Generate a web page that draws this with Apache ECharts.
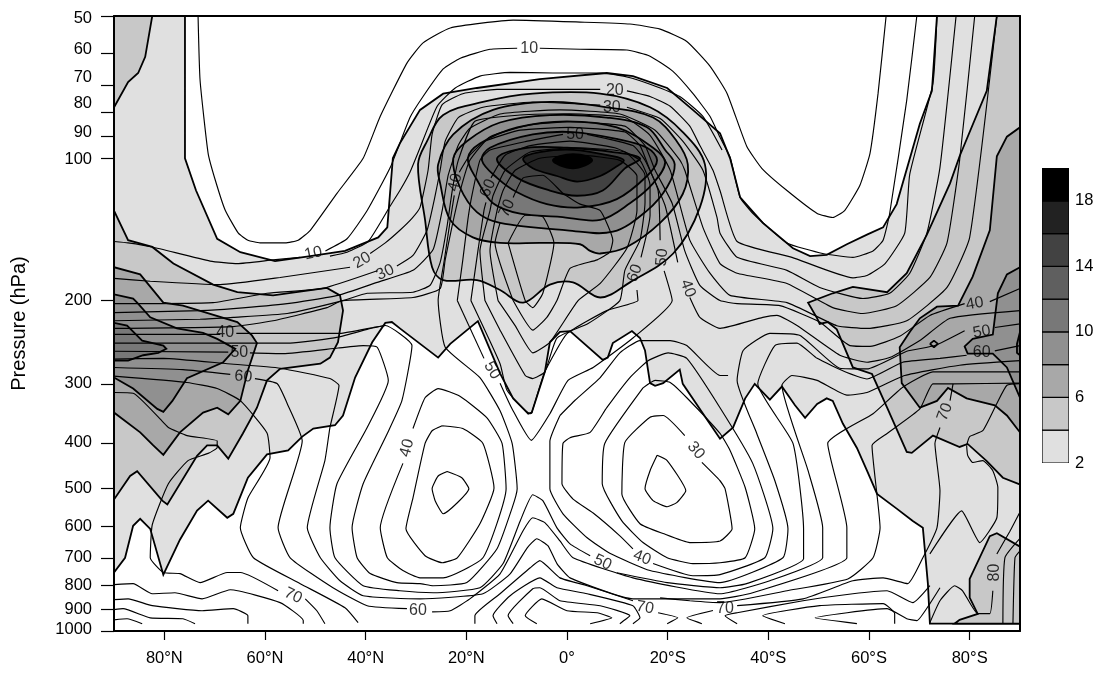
<!DOCTYPE html>
<html><head><meta charset="utf-8">
<style>html,body{margin:0;padding:0;background:#fff}#c{width:1106px;height:675px}</style>
<script src="https://cdn.jsdelivr.net/npm/echarts@6/dist/echarts.min.js"></script>
</head><body><div id="c"></div>
<script>
const pressureTicks=[50,60,70,80,90,100,200,300,400,500,600,700,800,900,1000];
const latTicks=[-80,-60,-40,-20,0,20,40,60,80];
const legendLevels=[2,4,6,8,10,12,14,16,18,20];
const legendTicks=[2,6,10,14,18];

// shaded regions [latitude (negative = N), pressure hPa]
const shade2=[[-90,50],[-75.9,50],[-75.9,100],[-73.7,117],[-69.5,148],[-64.9,158],[-58,165],[-51,161],[-44.1,157],[-37.5,147],[-35.7,140],[-34.6,100],[-33.2,93],[-29.2,79],[-24.6,73],[-17.9,71],[-5.4,68],[7.9,66],[13.1,67],[19.9,71],[25,79],[30.4,88.5],[32.4,100],[34.4,121],[38.9,137],[44.9,155],[48.3,161],[51.6,160],[55.6,152],[59.6,145],[62.8,140],[65.5,125],[70.1,84.5],[72.5,72],[73.5,50],[90,50],[90,965],[72.1,965],[71.7,794],[70.7,605],[68.7,585],[65.5,551],[61.6,513],[59.6,458],[57.6,410],[54.8,364],[52.8,326],[51.6,322],[49.7,331],[47.3,354],[45.3,333],[42.7,304],[40.3,324],[37.3,300],[35.4,322],[33,371],[30.4,392],[23,300],[22.4,280],[19.1,299],[17.5,303],[16.5,299],[15.5,255],[14.5,240],[12.9,232],[9.1,246],[8.1,264],[7.1,267],[0.6,232],[-1.4,233],[-3.4,245],[-4.4,283],[-7,345],[-7.7,347],[-10.7,322],[-13.3,285],[-17.7,221],[-23.2,247],[-25.6,264],[-33.2,229],[-34.8,222],[-36.1,223],[-38.7,245],[-42.1,291],[-44.5,350],[-46.1,367],[-50.4,373],[-52.6,388],[-55.4,415],[-59.6,423],[-63.4,474],[-66.3,565],[-67.5,576],[-71.3,530],[-73.5,556],[-76.9,641],[-80.2,760],[-82.8,608],[-84.8,579],[-86.2,599],[-87.8,700],[-90,752]];
const shade4a=[[-90,50],[-82.4,50],[-83.8,61],[-85.2,66],[-87.2,69],[-90,78]];
const shade4b=[[-90,129],[-87.2,149],[-82.4,154],[-78.2,167],[-70.3,185],[-65.5,192],[-58.4,195],[-47.7,188],[-45.1,195],[-44.5,210],[-45.5,245],[-47.1,264],[-49,272],[-57,279],[-59.6,295],[-61.6,337],[-64.4,382],[-67.3,432],[-69.5,405],[-71.5,405],[-73.5,426],[-79.4,540],[-80.4,530],[-85.4,459],[-86.8,470],[-90,527]];
const shade4c=[[-29.6,103],[-27.8,92],[-24.6,81],[-16.7,76],[-6.8,73],[6.6,73],[16.5,78],[23,88],[27.4,103],[26.4,127],[21.1,159],[12.5,183],[6.6,197],[1.2,183],[-3.4,185],[-8.7,202],[-13.3,190],[-17.9,181],[-24.6,181],[-26.8,170],[-28.2,135]];
const shade4d=[[85.4,50],[83.4,72],[78,99],[76.1,113],[71.5,145],[67.5,175],[63.6,192],[56.8,187],[52.8,193],[47.9,202],[49.7,218],[50.2,224],[51.8,222],[53.6,230],[56.8,277],[60.6,286],[63.6,337],[67.5,418],[68.5,420],[72.7,386],[78,408],[79.6,402],[83.4,437],[86.6,474],[90,490],[90,50]];
const shade4e=[[90,663],[85.4,621],[84,630],[80,776],[80,850],[81.6,920],[78,947],[77,965],[90,965]];
const shade6a=[[-90,170],[-84.8,176],[-80.2,202],[-76.3,205],[-65.5,222],[-62.6,237],[-61.6,246],[-63.4,281],[-64.9,326],[-67.3,348],[-69.5,337],[-72.3,345],[-76.9,380],[-80.2,424],[-82.2,405],[-84.8,380],[-90,345]];
const shade6b=[[-25.6,103],[-22.6,89],[-14.7,79],[-3.4,76],[7.9,78],[17.1,82],[21.8,92],[24,103],[23,119],[18.5,137],[11.9,154],[6.6,159],[4.6,157],[2.6,152],[-4.8,151],[-13.3,151],[-18.7,147],[-23.2,135],[-25.2,113]];
const shade6c=[[90,86],[87.4,90],[85.4,99],[84,142],[80.6,178],[77.7,205],[73.5,206],[70.1,218],[68.1,233],[66.1,251],[66.5,299],[70.1,337],[73.5,326],[75.7,306],[79.4,322],[85,333],[87.4,350],[90,380]];
const shade8a=[[-90,194],[-86.2,198],[-85.4,202],[-82.8,217],[-77.5,229],[-72.3,234],[-69.5,241],[-65.9,253],[-68.3,270],[-75.5,292],[-78.4,326],[-80.2,344],[-81.4,339],[-86.2,307],[-90,291]];
const shade8b=[[-22.6,100],[-19.9,92],[-13.3,84],[-3.4,81],[7.9,82],[15.9,86],[19.5,96],[21.4,103],[19.9,115],[15.9,129],[9.1,143],[0,142],[-13.3,137],[-17.9,130],[-21.3,115]];
const shade8c=[[90,170],[87.4,176],[85.6,193],[84.6,236],[80.6,241],[79,250],[79.6,259],[84.6,259],[87.4,277],[90,321]];
const shade10a=[[-90,223],[-87.4,226],[-84.4,243],[-80.2,249],[-79.6,253],[-81.2,258],[-84.2,261],[-87.2,268],[-90,268]];
const shade10b=[[90,233],[89.4,247],[89.4,258],[90,261]];
const shade10c=[[-19.7,100],[-17.3,93],[-9.9,86],[0,83.5],[9.9,86],[17.1,95],[19.5,102],[17.1,113],[12.5,124.5],[6.6,135],[-1.4,133],[-9.3,131],[-14.7,124.5],[-17.9,111]];
const shade12=[[-16.9,101],[-15.3,95],[-6.8,89],[1.2,88],[9.9,91],[15.9,95],[17.9,101],[15.9,109],[9.9,122],[2.6,127],[-4,125],[-9.9,118],[-13.9,110]];
const shade14=[[-13.9,100],[-7.9,95],[0,95],[9.1,97],[14.5,100],[11.5,105],[7.1,117],[2,120],[-3.4,117],[-9.9,110]];
const shade16=[[-8.7,100],[-5.4,97],[1.2,96],[9.1,99],[11.3,101],[9.9,104],[6.6,109],[2,112],[-2,109],[-6.8,105]];
const shade18=[[-2.8,101],[-1.4,99],[1.2,98],[4,99],[5,101],[3.6,103.5],[1.2,105],[-1.4,103.5]];
const shadeLevels=[[shade2],[shade4a,shade4b,shade4c,shade4d,shade4e],[shade6a,shade6b,shade6c],[shade8a,shade8b,shade8c],[shade10a,shade10b,shade10c],[shade12],[shade14],[shade16],[shade18]];
const roundedShades=[shade4c,shade6b,shade8b,shade10c,shade12,shade14,shade16,shade18];
const smallRing=[[72.1,247],[72.9,243],[73.7,247],[72.9,251],[72.1,247]];

// contour lines
const c00=[[-73.3,50],[-72.9,68.4],[-71.3,97.6],[-69.9,111],[-67.9,128.8],[-65.3,144],[-63.4,149],[-61,151],[-56,151],[-53.4,149],[-51,142],[-45.7,118.6],[-40.5,100],[-37.1,81.5],[-31.8,62.9],[-28.6,57],[-23.2,53],[-10.7,51],[2.6,51.5],[12.5,52],[18.5,53.3],[23.8,56.6],[28.4,63.8],[31.8,72.9],[35.7,94.3],[38.7,105],[43.7,117],[49.7,130.8],[52.8,133.4],[55.2,128.8],[58.2,114],[60.2,97.6],[61.8,72.9],[63.4,50]];
const c10a=[[-90,150],[-87.2,151],[-82.4,154],[-70.9,165],[-65.5,167],[-58.4,164],[-53,162]];
const c10b=[[-48,157],[-43.7,148],[-39.7,129],[-35.1,104.5],[-31.2,82],[-28.6,74],[-24.6,64.7],[-21.2,61.4],[-15.3,58.8],[-9.9,58.5]];
const c10c=[[-5.4,58.5],[2.6,58.8],[11.9,59],[16.5,60.8],[21,65.4],[25,72.9],[28.4,81.5],[30.4,90.3],[32.4,99.5],[34.4,121],[37,131],[43.7,151],[50.8,159],[56.8,162],[60.8,157],[62.8,149],[64.1,131],[67.5,75.3],[69.5,50]];
const ck=[[-47.1,161],[-43.7,158],[-39.5,150],[-35.1,126],[-33.2,117],[-31.2,107],[-29.2,95],[-25.8,77.6],[-22.2,71],[-17.3,67],[-11.3,65.8],[-2.8,66],[7.1,66],[11.9,67.3],[16.5,69.7],[22.4,74],[27,81.5],[30.8,96]];
const c20a=[[-90,179.5],[-82.8,182],[-68.9,185],[-57,178.7],[-43.1,170]];
const c20b=[[-39.1,159],[-36.1,151],[-33.2,142],[-30.8,134],[-29.2,127],[-27.6,106],[-26.8,89],[-24.8,77],[-20.7,73],[-13.9,71.5],[6.6,71.5]];
const c20c=[[11.9,72],[16.5,74],[20.5,77.6],[24.4,85.5],[26.4,94],[29,106],[30.4,117],[33.8,150],[44.7,162],[56.8,179],[59.6,177],[63.2,167],[67.1,144],[68.1,108],[72.7,69.4],[73.5,50]];
const c30a=[[-90,203],[-70.3,202],[-59.6,193],[-48.5,188.5],[-37.7,173]];
const c30b=[[-33.8,169],[-30.6,160.5],[-27.8,142],[-26.2,120],[-25.2,106],[-24.2,92],[-21.6,82],[-16.7,78],[-6.8,76],[6.6,77.2]];
const c30c=[[11.9,78],[18.5,82.4],[23,92],[27,106],[29.8,133.4],[30.4,144],[33.8,162],[43.7,172.6],[50.2,187.6],[58.8,198],[64.1,193],[68.1,175],[71.5,144],[74.1,104.5],[77.3,50]];
const cA=[[-90,212],[-72.9,210],[-66.3,208],[-55.6,203],[-45.5,195],[-37.7,183],[-30.6,172.6],[-26.6,156],[-24.8,129],[-23.6,108.6],[-21.6,93.8],[-19.3,86.4],[-13.3,80.6],[-1.4,79],[10.5,80.6],[17.5,87.2],[22.4,100.8],[23.4,106],[27,140],[30.4,167],[33.8,175],[43.7,184],[52.8,207],[58.8,213],[65.5,205],[72.1,178.7],[75.5,151],[78,101],[81,50]];
const cB=[[-90,220.6],[-72.9,219],[-66.3,217],[-55.6,213],[-44.5,200],[-39.7,193],[-30.6,192],[-27.2,185.6],[-25.2,166],[-23.8,138.6],[-22.8,117],[-21.6,101],[-18.3,83.5],[-9.3,81],[0.6,80.5],[11.5,82],[16.5,89.4],[20.5,106],[24.4,149],[28.4,175],[32.4,195],[43.7,202],[53.6,226],[59.6,229],[67.5,220.6],[75.5,187.6],[80,147],[85.4,50]];
const cC=[[-90,229],[-66.3,227],[-58.4,220.6],[-47.7,207],[-44.7,200],[-30.6,197],[-25.2,188.6],[-24.2,164],[-22.8,138.6],[-21.2,117],[-19.3,101],[-15.3,90],[-7.3,85],[0.6,83.7],[11.5,85.5],[15.5,94],[17.5,106],[20.9,124.6],[23.4,157],[26.4,185.7],[30.4,200],[33.8,203],[42.3,205],[50.2,222],[56.2,249],[60.2,250],[66.1,238],[72.1,215],[79,203]];
const cC2=[[84,201],[90,188.6]];
const c40a=[[-90,235.8],[-68.9,235.8]];
const c40b=[[-65.7,234.6],[-53,234.6],[-45.1,234.6],[-38.5,228],[-36.1,225.8],[-30.8,249],[-32.8,325.6],[-35.7,382],[-40.5,488],[-42.7,605],[-41.7,700],[-39.1,756],[-33.8,790],[-29.2,794],[-26.6,802],[-19.9,790],[-13.9,670],[-10.9,549],[-9.9,500],[-10.9,401],[-13.3,342],[-17.3,291],[-24.2,251],[-25.6,199.7],[-24.4,164.7],[-23.2,135.3],[-22.4,119.8]];
const c40c=[[-21.4,107],[-19.3,98.5],[-16.3,92],[-9.3,87.2],[0.6,86],[11.5,88],[14.5,94],[16.5,106],[19.5,126],[22,166]];
const c40d=[[24.4,197],[26.4,217],[30.4,229],[38.9,217],[41.7,215],[45.7,225.8],[54.2,261],[59.6,270],[64.1,264],[70.1,243],[76.1,218],[90,210]];
const cD=[[-90,246],[-62.3,246],[-55,246],[-45.5,239],[-39,229],[-36.1,225.8]];
const c50a=[[-90,256],[-67.3,257]];
const c50b=[[-63,258],[-56.4,259],[-45.5,252],[-40.5,249],[-37.7,251],[-35.5,295],[-39.7,371],[-45.7,488],[-47.1,605],[-46.1,700],[-40.5,802],[-33.2,822],[-26.6,830],[-17.3,810],[-12.7,720],[-9.3,585],[-6.8,515],[-4.8,530],[-2,605],[0.6,654],[4.6,693]];
const c50c=[[9.9,753],[19.9,790],[30.4,810],[35.7,794],[47,703],[47,608],[44.9,401],[37.9,300],[41.3,249],[45.7,246],[49.7,265],[55.6,284],[59.6,293],[66.7,270],[74.1,265],[79.4,261]];
const c50d=[[85,255.5],[90,249]];
const c60a=[[-90,277],[-76.3,280],[-66.9,286.5]];
const c60b=[[-62,292.4],[-57.6,299.6],[-55.6,330],[-52.6,396],[-57.4,605],[-55,700],[-46.5,810],[-39.7,884],[-31.8,897]];
const c60c=[[-26.8,911],[-23.2,906],[-19.3,855],[-13.3,757],[-8.7,613],[-6.8,576],[-4.4,590],[-1.4,645],[1.2,700],[13.1,772],[30.4,834],[40.3,783],[50.8,700],[50.8,605],[47.9,458],[42.7,302],[44.7,288],[49.7,295],[55.6,317],[59.6,313],[67.1,288],[78,274],[90,268]];
const cR7=[[-90,266],[-80.2,265],[-67.5,272],[-57,278],[-47.1,292.4],[-45.3,302.5],[-47.1,371.4],[-48.1,436],[-51.6,605],[-49,700],[-45.1,783],[-40.5,842],[-29.2,855],[-16.7,834],[-11.3,757],[-7.9,667],[-6,638],[-3.8,660],[-2,720],[0.6,772],[13.1,855],[30.4,855],[36.9,830],[55.6,700],[55.6,605],[51.8,401],[60.8,347],[66.7,305],[72.7,283],[90,283]];
const loop1=[[-23.8,460],[-20.9,474],[-19.5,500],[-24.6,565],[-26.2,530],[-26.8,500],[-25.6,470],[-23.8,460]];
const loop2=[[-24.8,368],[-20.7,373],[-16.7,401],[-14.5,498],[-17.3,593],[-21.8,700],[-24.8,717],[-28.2,693],[-32,608],[-30.6,523],[-28.2,401],[-26.8,377],[-24.8,368]];
const loop3=[[-32.6,442],[-37.1,605],[-35.7,700],[-32.6,745],[-29.2,772],[-24.6,772],[-16.7,700],[-12.1,500],[-12.9,401],[-15.9,354],[-21.2,319],[-25.6,307],[-28.2,321],[-30.6,373]];
const r1=[[17.9,425],[19.9,436],[23.6,505],[21.8,535],[19.9,546],[17.1,530],[15.5,500],[16.5,458],[17.9,425]];
const r2=[[26.8,440],[30.4,481],[31.4,500],[32.8,608],[30.4,645],[24.4,650],[19.1,622],[14.5,593],[10.9,513],[11.5,399],[16.5,353],[19.1,350],[23.4,386]];
const r3=[[15.1,306],[17.5,295],[20.5,298],[23.8,321],[30.4,382],[32.4,415],[35.4,497],[37.3,608],[35.4,700],[30.4,717],[25,720],[19.9,700],[15.1,650],[10.9,585],[7,488],[7.5,401],[15.1,306]];
const r4=[[17.1,720],[25,764],[30.4,760],[39.3,700],[40.9,608],[36.9,442],[30.4,337],[23.8,265],[20.1,258],[16.1,268],[12.5,291],[7.9,337],[4.6,380],[0.6,390],[-0.8,401],[-1,488],[1.2,526],[5.2,563],[10.5,629],[13.1,670]];
const q1=[[-1.4,350],[1.6,325],[6.6,291],[10.5,258],[14.5,243],[20.5,243],[23.8,249],[30.4,288],[32,288]];
const q2=[[-1.4,350],[-3.4,397],[-3.4,500],[-0.8,565],[4,635],[8.5,685],[16.5,745],[30.4,790],[42.9,700],[43.9,608],[41.3,481],[37.7,382],[33.8,295],[35,255],[40.3,234.6],[46.3,237],[54.2,278],[59.6,279],[67.5,256],[73.1,249],[79,231.7]];
const q3=[[85,228],[90,224]];
const c70a=[[-90,289],[-75.5,298],[-69.5,307],[-64.9,325.6],[-59.6,381],[-59,430],[-63.4,523],[-64.9,605],[-62.3,700],[-53,794],[-44.1,893],[-41.5,960]];
const c70b=[[-90,313],[-86.2,314],[-80.2,362],[-79.2,371],[-75.5,386],[-69.5,396],[-69.5,409],[-71.3,421],[-75.3,436],[-79.2,488],[-82.4,596],[-82.8,700],[-80.2,752],[-76.9,756],[-72.9,790],[-67.5,752],[-64.9,752],[-57.4,822]];
const c70c=[[-52,855],[-49.7,906],[-48.1,965]];
const b1=[[-90,798],[-86.2,794],[-82.4,834],[-77.9,830],[-72.5,855],[-66.9,818],[-57,871],[-52.4,950],[-52.4,965]];
const b2=[[-90,858],[-87.2,855],[-82.4,884],[-72.5,906],[-66.3,897],[-63.4,928],[-63.4,965]];
const b3=[[-90,901],[-88.2,897],[-82.8,938],[-76.3,942],[-73.9,965]];
const b4=[[-90,947],[-87.4,942],[-84.4,965]];
const p4=[[-18.3,965],[-18.3,928],[-13.3,834],[-7.3,735],[-5.4,710],[-1.4,772],[4,802],[13.1,863]];
const p4b=[[18.1,915],[22,938],[19.9,965]];
const p5=[[-13.9,965],[-14.7,928],[-11.3,842],[-5.4,772],[-2,810],[4,834],[13.1,884],[14.5,938],[13.1,965]];
const r8=[[18.5,851],[24.4,863],[30.4,871],[43.7,822],[55.8,776],[60.8,700],[62.2,605],[60.6,405],[63.6,382],[70.1,339],[72.7,300],[76.7,300],[90,299]];
const p6=[[-10.7,965],[-11.7,928],[-6.8,814],[-5.4,810],[-1.4,863],[6.6,884],[12.5,928],[11.5,947],[10.5,965]];
const p7=[[-6,965],[-8.3,928],[-5,855],[0,906],[6,915],[8.9,938],[4.6,965]];
const s1=[[26.8,965],[23.8,938],[29,905]];
const s2=[[33.8,884],[46.9,855],[56.8,783],[62.8,772],[67.7,794],[70.7,700],[73.5,605],[74.1,505],[73.1,401],[74.1,371]];
const s2b=[[76.1,325.6],[76.7,300]];
const s3=[[33.8,965],[31.4,928],[33.8,915],[46.9,863],[56.8,834],[63.6,822],[68.7,871],[72.1,802]];
const s4=[[43.3,965],[38.9,928],[50.2,884],[62.8,875],[65.1,919],[65.1,965]];
const s5=[[57.6,965],[49.3,938],[63.6,897],[67.5,942],[69.5,951],[72.1,875],[74.1,810]];
const v1=[[72.1,687],[78.4,557],[82,650],[85.4,576],[85.6,497],[84.6,458],[82.6,436],[80.6,440],[79.6,425],[79.4,405]];
const v1b=[[79.4,405],[80,388],[82.6,377],[85.4,330],[87.4,302],[90,299.6]];
const v2a=[[72.1,960],[74.1,863],[77,802],[78.6,822],[81.6,919],[84,919],[84.6,822]];
const v2b=[[85.4,687],[88,615],[90,560]];
const v3=[[86.6,965],[87,700],[90,637]];
const v4=[[88.6,965],[89,700],[90,677]];
const m50a=[[-21.8,200],[-20.7,164],[-19.7,135],[-18.9,120],[-17.3,101],[-15.3,96],[-7.9,92],[-0.8,89]];
const m50b=[[4,89],[13.1,94],[15.5,101],[18.1,117],[18.5,149]];
const m50c=[[19.3,173],[20.9,200],[13.1,240],[5.2,277],[0.2,295],[-3.4,347],[-7.1,395],[-10.9,339],[-13.3,299]];
const m50d=[[-16.5,265],[-21.8,200]];
const m60a=[[-19.1,200],[-17.7,157],[-16.5,129],[-16.1,124]];
const m60b=[[-15.1,110],[-12.3,98.5],[-7.3,94],[0.6,92],[9.5,95],[14.5,101],[16.5,114],[16.5,132],[14.7,162]];
const m60c=[[13.9,190],[14.1,200],[7.9,210],[0,235],[-4.4,283],[-7,345],[-7.3,347],[-11.9,310],[-13.3,272],[-19.1,200]];
const m65=[[-16.3,200],[-17.3,157],[-15.3,129],[-14.7,120],[-12.3,106],[-7.3,97],[1.6,95],[11.5,97],[15.5,108.6],[15.5,124],[14.5,149],[11.5,172.6],[10.5,200],[4.2,223.6],[-2,240],[-4.4,283],[-6.8,292.4],[-8.3,288],[-13.3,231],[-16.3,200]];
const m68=[[-13.7,200],[-15.3,157],[-13.9,129],[-12.7,117],[-10.3,106],[-5.4,100],[2.6,98.5],[10.5,101],[13.9,109],[13.9,129],[11.9,155],[6.6,184],[2.2,200],[-3.4,245],[-6.8,258],[-10.3,226],[-13.7,200]];
const m70a=[[-10.7,200],[-14.3,151],[-13.3,137]];
const m70b=[[-10.7,121],[-8.7,110],[-4.8,108.6],[-0.8,118.6],[2.6,125],[6.6,129],[9.1,149],[8.5,158],[6,164],[0.6,171],[-2,200],[-4,217],[-6.8,231],[-10.7,200]];
const m80=[[-11.7,151],[-8.3,132],[-4.8,133],[-2.6,151],[-4.8,193],[-6.8,207],[-8.3,200],[-11.7,151]];
const contourLines=[c00,c10a,c10b,c10c,ck,c20a,c20b,c20c,c30a,c30b,c30c,cA,cB,cC,cC2,c40a,c40b,c40c,c40d,cD,c50a,c50b,c50c,c50d,c60a,c60b,c60c,cR7,loop1,loop2,loop3,r1,r2,r3,r4,q1,q2,q3,c70a,c70b,c70c,b1,b2,b3,b4,p4,p4b,p5,r8,p6,p7,s1,s2,s2b,s3,s4,s5,v1,v1b,v2a,v2b,v3,v4,m50a,m50b,m50c,m50d,m60a,m60b,m60c,m65,m68,m70a,m70b,m80];
// [lat, pressure, text, rotation]
const contourLabels=[[-7.5,58.5,'10',0],[-50.4,158.9,'10',12],[-40.7,164.5,'20',30],[-36.1,174.5,'30',25],[9.5,71.8,'20',0],[8.9,78,'30',0],[1.6,89,'50',0],[-22.2,112.5,'40',75],[-15.7,115.7,'60',65],[-11.9,127.6,'70',65],[13.5,175,'60',70],[18.9,162,'50',85],[24,188.6,'40',-70],[-67.9,234,'40',0],[-65.1,258,'50',0],[-64.3,289.5,'60',-5],[-14.9,281,'50',-60],[-31.8,410,'40',75],[25.6,415,'30',-50],[7.1,716,'50',-25],[14.9,700,'40',-20],[-54.4,842,'70',-25],[-29.6,904,'60',0],[15.5,893,'70',-10],[31.4,897,'70',0],[81,203,'40',10],[82.4,233,'50',10],[82.4,258,'60',0],[75.1,344,'70',70],[85,752,'80',90]];

const shadeColors=['#e0e0e0','#c8c8c8','#a8a8a8','#909090','#787878','#5f5f5f','#424242','#222222','#000000'];
const FONT='"Liberation Sans",Arial,sans-serif';
const yShift={50:2,60:-4,70:-8,80:-9,90:-4,100:1,1000:-2};
const yRich={};
Object.keys(yShift).forEach(k=>{const s=yShift[k];yRich['s'+k]={fontFamily:FONT,fontSize:16.5,color:'#000',padding:s>0?[2*s,0,0,0]:[0,0,-2*s,0]};});

const polySeries=(poly,fill,xi,lw,smooth)=>({type:'custom',coordinateSystem:'cartesian2d',xAxisIndex:xi,yAxisIndex:xi,silent:true,animation:false,z:2,clip:true,data:[poly[0]],
  renderItem:(p,api)=>({type:'polygon',shape:{points:poly.map(q=>api.coord(q)),smooth:smooth},style:{fill:fill,stroke:'#000',lineWidth:lw}})});
const series=[];
shadeLevels.forEach((polys,i)=>polys.forEach(poly=>series.push(polySeries(poly,shadeColors[i],0,1.8,roundedShades.includes(poly)?0.35:0))));
contourLines.forEach(l=>series.push({type:'line',xAxisIndex:0,yAxisIndex:0,data:l,showSymbol:false,silent:true,animation:false,z:3,smooth:0.15,lineStyle:{color:'#000',width:1.15}}));
series.push({type:'line',xAxisIndex:0,yAxisIndex:0,data:smallRing,showSymbol:false,silent:true,animation:false,z:3,lineStyle:{color:'#000',width:1.8}});
series.push({type:'scatter',xAxisIndex:0,yAxisIndex:0,symbolSize:0,silent:true,animation:false,z:4,data:contourLabels.map(d=>({value:[d[0],d[1]],label:{show:true,position:'inside',formatter:d[2],rotate:d[3],fontFamily:FONT,fontSize:16,color:'#000'}}))});
for(let i=0;i<legendLevels.length-1;i++){const lo=legendLevels[i],hi=legendLevels[i+1];
  series.push(polySeries([[0,lo],[1,lo],[1,hi],[0,hi]],shadeColors[i],1,1.2,0));}

const frameAxis={show:true,z:10,axisLine:{show:true,onZero:false,lineStyle:{color:'#000',width:2}},axisTick:{show:false},axisLabel:{show:false},splitLine:{show:false}};
const chart=echarts.init(document.getElementById('c'),null,{renderer:'canvas'});
chart.setOption({animation:false,backgroundColor:'#fff',
  grid:[{left:114,right:86,top:16,bottom:44,show:false,outerBoundsMode:'none'},{left:1042,width:27,top:168,height:295,show:false,outerBoundsMode:'none'}],
  xAxis:[{type:'value',gridIndex:0,min:-90,max:90,z:10,splitLine:{show:false},position:'bottom',
    axisLine:{show:true,onZero:false,lineStyle:{color:'#000',width:2}},
    axisTick:{show:true,length:9,customValues:latTicks,lineStyle:{color:'#000',width:1.2}},
    axisLabel:{customValues:latTicks,margin:19,fontFamily:FONT,fontSize:16.5,color:'#000',formatter:v=>v===0?'0°':(v<0?(-v)+'°N':v+'°S')}},
    {type:'value',gridIndex:1,min:0,max:1,show:false},
    Object.assign({type:'value',gridIndex:0,min:-90,max:90,position:'top'},frameAxis)],
  yAxis:[{type:'log',logBase:10,gridIndex:0,inverse:true,min:50,max:1000,z:10,name:'Pressure (hPa)',nameLocation:'middle',nameGap:85,nameTextStyle:{fontFamily:FONT,fontSize:20,color:'#000'},splitLine:{show:false},minorTick:{show:false},
    axisLine:{show:true,onZero:false,lineStyle:{color:'#000',width:2}},
    axisTick:{show:true,length:13,customValues:pressureTicks,lineStyle:{color:'#000',width:1.2}},
    axisLabel:{customValues:pressureTicks,margin:22,fontFamily:FONT,fontSize:16.5,color:'#000',rich:yRich,formatter:v=>{v=Math.round(v);return yShift[v]!==undefined?`{s${v}|${v}}`:String(v);}}},
    {type:'value',gridIndex:1,min:2,max:20,interval:2,position:'right',splitLine:{show:false},axisLine:{show:false},axisTick:{show:false},
    axisLabel:{customValues:legendTicks,margin:6,fontFamily:FONT,fontSize:16.5,color:'#000'}},
    Object.assign({type:'value',gridIndex:0,min:0,max:1,position:'right'},frameAxis)],
  series:series});
</script></body></html>
